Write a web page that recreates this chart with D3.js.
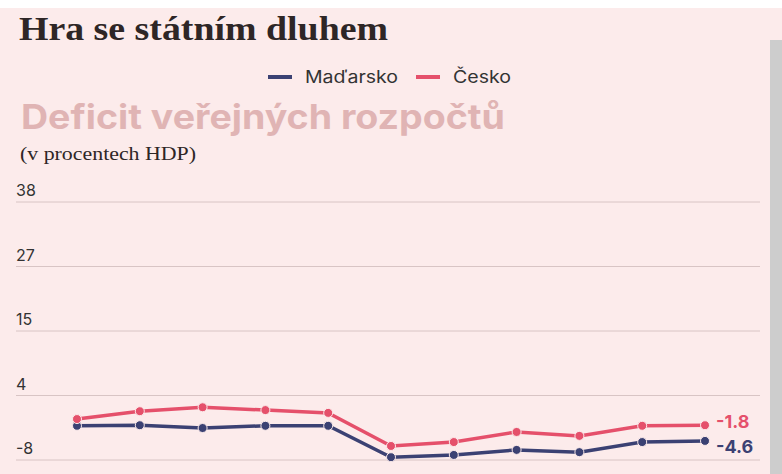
<!DOCTYPE html>
<html><head><meta charset="utf-8">
<script src="https://cdn.jsdelivr.net/npm/d3@7"></script>
<style>
  body { margin: 0; background: #fff; }
  svg { display: block; }
</style></head>
<body>
<svg id="chart" width="782" height="474"></svg>
<script>
  // Data (11 yearly points, % of GDP)
  const periods = d3.range(11);
  const hungary = [-1.9, -1.8, -2.3, -1.9, -1.9, -7.5, -7.1, -6.2, -6.6, -4.8, -4.6];
  const czechia = [-0.7, 0.7, 1.4, 0.9, 0.4, -5.5, -4.8, -3.0, -3.7, -1.9, -1.8];
  const tickValues = [38, 27, 15, 4, -8];
  const series = [
    { name: "Maďarsko", values: hungary, color: "#3b4173", dy: 12 },
    { name: "Česko", values: czechia, color: "#e5506b", dy: 3 }
  ];

  const svg = d3.select("#chart");
  svg.append("rect").attr("width", 782).attr("height", 474).attr("fill", "#fcebeb");
  svg.append("rect").attr("width", 782).attr("height", 8).attr("fill", "#fff");
  svg.append("rect").attr("x", 770).attr("y", 40).attr("width", 12).attr("height", 434).attr("fill", "#cdcdcd");

  svg.append("text").attr("x", 19).attr("y", 40).text("Hra se státním dluhem")
    .attr("font-family", "Liberation Serif, serif").attr("font-weight", 700)
    .attr("font-size", 34).attr("fill", "#2e2626")
    .attr("textLength", 369).attr("lengthAdjust", "spacingAndGlyphs");

  // legend
  const leg = svg.append("g").attr("font-family", "Inter, sans-serif").attr("font-size", 17).attr("fill", "#333");
  [[268, 305, 93, series[0]], [416, 453, 58, series[1]]].forEach(([lx, tx, tl, s]) => {
    leg.append("rect").attr("x", lx).attr("y", 75).attr("width", 24).attr("height", 4).attr("fill", s.color);
    leg.append("text").attr("x", tx).attr("y", 83).text(s.name)
      .attr("textLength", tl).attr("lengthAdjust", "spacingAndGlyphs");
  });

  svg.append("text").attr("x", 21).attr("y", 129).text("Deficit veřejných rozpočtů")
    .attr("font-family", "Inter, sans-serif").attr("font-weight", 700)
    .attr("font-size", 34).attr("fill", "#e0b4b4")
    .attr("textLength", 484).attr("lengthAdjust", "spacingAndGlyphs");
  svg.append("text").attr("x", 20).attr("y", 160).text("(v procentech HDP)")
    .attr("font-family", "Liberation Serif, serif").attr("font-size", 19).attr("fill", "#2e2626")
    .attr("textLength", 176).attr("lengthAdjust", "spacingAndGlyphs");

  const x = d3.scalePoint().domain(periods).range([77, 705]);
  const y = d3.scaleLinear().domain([-8, 38]).range([460, 202]);

  const grid = svg.append("g");
  tickValues.forEach(t => {
    const py = t === 27 ? y(26.5) : t === 4 ? y(3.5) : y(t); // labels shown rounded, lines evenly spaced
    grid.append("line").attr("x1", 16).attr("x2", 760).attr("y1", py).attr("y2", py)
      .attr("stroke", "#d8c4c4").attr("stroke-width", 1);
    grid.append("text").attr("x", 16).attr("y", py - 6).text(t)
      .attr("font-family", "Inter, sans-serif").attr("font-size", 16).attr("fill", "#333");
  });

  const line = d3.line().x((d, i) => x(i)).y(d => y(d));
  series.forEach(s => {
    svg.append("path").attr("d", line(s.values)).attr("fill", "none")
      .attr("stroke", s.color).attr("stroke-width", 3.5);
    svg.selectAll(null).data(s.values).join("circle")
      .attr("cx", (d, i) => x(i)).attr("cy", d => y(d)).attr("r", 4.5)
      .attr("fill", s.color).attr("stroke", "#fcebeb").attr("stroke-width", 1);
    const last = s.values[s.values.length - 1];
    svg.append("text").attr("x", 716).attr("y", y(last) + s.dy).text(last)
      .attr("font-family", "Inter, sans-serif").attr("font-weight", 700)
      .attr("font-size", 18).attr("fill", s.color);
  });
</script>
</body></html>
